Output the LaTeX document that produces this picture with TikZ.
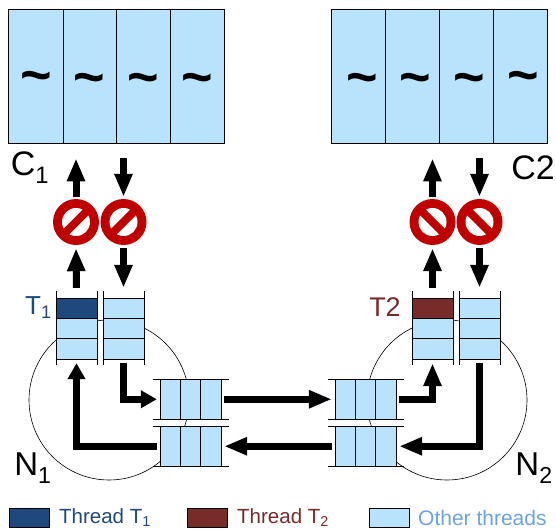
\documentclass[tikz,border=0pt]{standalone}
\usepackage{fontspec}
\setmainfont{Liberation Sans}
\usetikzlibrary{arrows.meta}
\definecolor{cellblue}{HTML}{B9E2FC}
\definecolor{threadone}{HTML}{1F497D}
\definecolor{threadtwo}{HTML}{772C2A}
\definecolor{otherblue}{HTML}{6FA3E0}
\definecolor{banred}{HTML}{C00000}
\tikzset{
  cache/.style={fill=cellblue,draw=black,line width=.8pt,minimum width=215.5,minimum height=134,inner sep=0},
  queue/.style={fill=cellblue,minimum width=41,minimum height=61,inner sep=0},
  buffer/.style={fill=cellblue,minimum width=61,minimum height=40.5,inner sep=0},
  grid/.style={draw=black,line width=.8pt},
  ban/.style={circle,minimum size=46,inner sep=0},
  pipe/.style={line width=7pt,-{Triangle[length=23pt,width=17pt]}},
  stubpipe/.style={line width=7pt,-{Triangle[length=16pt,width=17pt]}},
  wave/.style={font=\fontsize{54}{54}\selectfont\bfseries},
  legend/.style={draw=black,line width=.8pt,minimum width=40,minimum height=19.5,inner sep=0},
}
\begin{document}
\begin{tikzpicture}[x=1pt,y=-1pt]
\useasboundingbox (0,0) rectangle (556,529);
% routers behind everything
\node[circle,draw,line width=.6pt,minimum size=160,inner sep=0] (N1) at (109,400) {};
\node[circle,draw,line width=.6pt,minimum size=160,inner sep=0] (N2) at (447,400) {};
% caches
\node[cache] (C1) at (116.5,76) {};
\node[cache] (C2) at (439.25,76) {};
\foreach \x in {63,116.5,170,385,439,493}{
\draw[grid] (\x,9)--(\x,143);
}
\foreach \x/\y in {36/73,89.5/75,143.5/75,197/75,362/75,415.5/75,469.5/75,523.5/73}{
\node[wave] (w\x) at (\x,\y+9) {\textasciitilde};
}
% queues
\foreach \name/\x in {q1/76.5,q2/123.5,q3/432.5,q4/479.5}{
\node[queue] (\name) at (\x,328.5) {};
\draw[grid] (\x-20.5,291)--(\x-20.5,365);
\draw[grid] (\x+20.5,291)--(\x+20.5,365);
\foreach \y in {298,318.5,338.5,359}{
\draw[grid] (\x-20.5,\y)--(\x+20.5,\y);
}
}
\node[fill=threadone,draw=black,line width=.8pt,minimum width=41,minimum height=20.5,inner sep=0] (t1) at (76.5,308.25) {};
\node[fill=threadtwo,draw=black,line width=.8pt,minimum width=41,minimum height=20.5,inner sep=0] (t2) at (432.5,308.25) {};
% buffers
\foreach \name/\x/\y in {b1/190.5/399.25,b2/190.5/446.25,b3/365.5/399.25,b4/365.5/446.25}{
\node[buffer] (\name) at (\x,\y) {};
\draw[grid] (\x-38,\y-20.25)--(\x+38,\y-20.25);
\draw[grid] (\x-38,\y+20.25)--(\x+38,\y+20.25);
\foreach \d in {-30.5,-10,10,30.5}{
\draw[grid] (\x+\d,\y-20.25)--(\x+\d,\y+20.25);
}
}
% blocked links
\foreach \name/\x/\a in {s1/76/45,s2/123.5/45,s3/432.5/-45,s4/479.5/-45}{
\node[ban,fill=banred] (\name) at (\x,222) {};
\fill[white] (\x,222) circle[radius=14];
\fill[banred,rotate around={\a:(\x,222)}] (\x-16,218) rectangle (\x+16,226);
}
% arrows
\draw[pipe,shorten <=10pt,shorten >=3pt] (q1.north)--(s1.south);
\draw[pipe,shorten <=2pt,shorten >=15pt] (s1.north)--(C1.south-|s1.north);
\draw[pipe,shorten <=15pt,shorten >=2pt] (C1.south-|s2.north)--(s2.north);
\draw[pipe,shorten <=3pt,shorten >=10pt] (s2.south)--(q2.north);
\draw[pipe,shorten <=10pt,shorten >=3pt] (q3.north)--(s3.south);
\draw[pipe,shorten <=2pt,shorten >=15pt] (s3.north)--(C2.south-|s3.north);
\draw[pipe,shorten <=15pt,shorten >=2pt] (C2.south-|s4.north)--(s4.north);
\draw[pipe,shorten <=3pt,shorten >=10pt] (s4.south)--(q4.north);
\draw[stubpipe,shorten <=4pt,shorten >=3pt] (q2.south)|-(b1.west);
\draw[stubpipe,shorten <=3pt,shorten >=4pt] (b2.west)-|(q1.south);
\draw[pipe,shorten <=3pt,shorten >=3pt] (b1.east)--(b3.west);
\draw[pipe,shorten <=3pt,shorten >=3pt] (b4.west)--(b2.east);
\draw[pipe,shorten <=3pt,shorten >=4pt] (b3.east)-|(q3.south);
\draw[pipe,shorten <=4pt,shorten >=3pt] (q4.south)|-(b4.east);
% labels
\node[font=\fontsize{34}{34}\selectfont] (c1label) at (30,168) {C$_{\mathrm{1}}$};
\node[font=\fontsize{34}{34}\selectfont] (c2label) at (533,168) {C2};
\node[font=\fontsize{33}{33}\selectfont] (n1label) at (33,468) {N$_{\mathrm{1}}$};
\node[font=\fontsize{33}{33}\selectfont] (n2label) at (534,468) {N$_{\mathrm{2}}$};
\node[font=\fontsize{26}{26}\selectfont,text=threadone] (t1label) at (38.5,308) {T$_{\mathrm{1}}$};
\node[font=\fontsize{27}{27}\selectfont,text=threadtwo] (t2label) at (385,307) {T2};
% legend
\node[legend,fill=threadone] (l1) at (29,518) {};
\node[legend,fill=threadtwo] (l2) at (207,518) {};
\node[legend,fill=cellblue] (l3) at (389,518) {};
\node[anchor=west,inner sep=0,font=\fontsize{20.5}{20.5}\selectfont,text=threadone] (l1text) at (59,518) {Thread T$_{\mathrm{1}}$};
\node[anchor=west,inner sep=0,font=\fontsize{20.5}{20.5}\selectfont,text=threadtwo] (l2text) at (237,518) {Thread T$_{\mathrm{2}}$};
\node[anchor=west,inner sep=0,font=\fontsize{21}{21}\selectfont,text=otherblue] (l3text) at (418,517.5) {Other threads};
\end{tikzpicture}
\end{document}
